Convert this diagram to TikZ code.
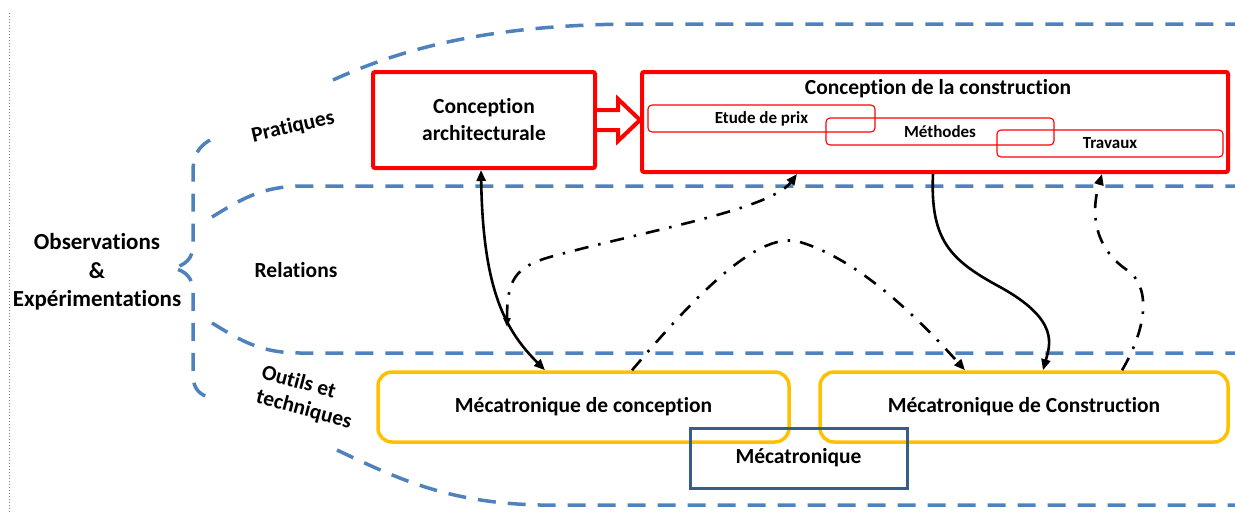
\documentclass[tikz,border=0pt]{standalone}
\usepackage{fontspec}
\setmainfont{Carlito}[Ligatures=NoCommon]
\usetikzlibrary{arrows.meta,calc}
\definecolor{bandblue}{HTML}{4F81BD}
\definecolor{boxred}{HTML}{FF0000}
\definecolor{boxyellow}{HTML}{FFC000}
\definecolor{boxnavy}{HTML}{385D8A}
\begin{document}
\begin{tikzpicture}[x=1pt,y=-1pt,
  font=\bfseries\fontsize{21.5}{27}\selectfont,
  band/.style={draw=bandblue,line width=3.5pt,dash pattern=on 18pt off 12pt},
  bigred/.style={draw=boxred,line width=4pt,rounded corners=2pt,inner sep=0pt},
  subred/.style={draw=boxred,line width=1.1pt,rounded corners=4pt,inner sep=0pt,
    minimum height=27pt,font=\bfseries\fontsize{17}{20}\selectfont},
  yelbox/.style={draw=boxyellow,line width=3.5pt,rounded corners=14pt,inner sep=0pt,
    minimum height=70pt},
  navybox/.style={draw=boxnavy,line width=3pt,inner sep=0pt,minimum width=217pt,minimum height=60pt},
  solidarrow/.style={draw=black,line width=2.6pt,-{Triangle[length=11pt,width=9pt]}},
  dotarrow/.style={draw=black,line width=2.6pt,dash pattern=on 14pt off 10pt on 2.5pt off 10pt,
    -{Triangle[length=11pt,width=9pt]}},
  sidelabel/.style={inner sep=0pt}
]
\useasboundingbox (0,0) rectangle (1235,512);
% left dotted margin line
\draw[gray,line width=0.8pt,dash pattern=on 1pt off 2pt] (9,13) -- (9,512);

% blue dashed bands
\draw[band] (333,80) .. controls (410,45) and (500,24) .. (640,24) -- (1235,24);
\draw[band] (212,217) .. controls (240,200) and (260,187) .. (300,186) -- (1235,186);
\draw[band] (212,323) .. controls (240,340) and (260,353) .. (300,353) -- (1235,353);
\draw[band] (337,450) .. controls (400,480) and (450,503) .. (540,505) -- (1235,505);
% brace
\draw[band] (210,140) .. controls (198,147) and (193,156) .. (193,172) -- (193,245)
  .. controls (193,258) and (186,265) .. (173,268)
  .. controls (186,271) and (193,278) .. (193,292) -- (193,375)
  .. controls (193,389) and (200,396) .. (213,398);

% labels on the left
\node[sidelabel,align=center,font=\bfseries\fontsize{23}{28.5}\selectfont] (obs) at (97,272)
  {Observations\\\&\\Expérimentations};
\node[sidelabel,rotate=13] (prat) at (293,127) {Pratiques};
\node[sidelabel] (rel) at (296,270) {Relations};
\node[sidelabel,rotate=-15] (outils) at (299,381) {Outils et};
\node[sidelabel,rotate=-15] (techn) at (304,410) {techniques};

% top boxes
\node[bigred,minimum width=222pt,minimum height=96pt,align=center] (archi) at (484,120)
  {Conception\\architecturale};
\node[bigred,minimum width=586pt,minimum height=100pt] (constr) at (935,122) {};
\node[sidelabel] (constrtitle) at (938,89) {Conception de la construction};
\node[subred,minimum width=227pt] (etude) at (761.5,118.5) {Etude de prix};
\node[subred,minimum width=228pt] (methodes) at (940,131.5) {Méthodes};
\node[subred,minimum width=226pt] (travaux) at (1110,143.5) {Travaux};

% block arrow between the two red boxes
\draw[draw=boxred,fill=white,line width=4pt,line join=miter]
  ([yshift=10pt]archi.east) -- ++(21,0) -- ++(0,-11) -- ++(22,21) -- ++(-22,21) -- ++(0,-11) -- ([yshift=-10pt]archi.east);

% bottom boxes
\node[yelbox,minimum width=411pt] (mecconc) at (583.5,407) {Mécatronique de conception};
\node[yelbox,minimum width=408pt] (mecconst) at (1024,407) {Mécatronique de Construction};
\node[navybox] (meca) at (798.5,458) {Mécatronique};

% connectors
\draw[solidarrow,{Triangle[length=11pt,width=9pt]}-{Triangle[length=11pt,width=9pt]}]
  ([xshift=-3pt]archi.south) .. controls (483,290) and (505,330) .. ([xshift=-38.5pt]mecconc.north);
\coordinate (dcend) at (507,327);
\draw[dotarrow,{Triangle[length=9pt,width=7pt]}-{Triangle[length=11pt,width=9pt]}]
  (dcend) .. controls (507,280) and (515,267) .. (550,257)
  .. controls (640,232) and (770,210) .. ([xshift=-138pt]constr.south);
\draw[dotarrow] ([xshift=48.5pt]mecconc.north) .. controls (700,290) and (760,230) .. (800,242)
  .. controls (860,260) and (920,320) .. ([xshift=-59pt]mecconst.north);
\draw[solidarrow] ([xshift=-2pt]constr.south) .. controls (930,240) and (950,260) .. (1000,287)
  .. controls (1060,320) and (1050,345) .. ([xshift=19pt]mecconst.north);
\draw[dotarrow] ([xshift=98pt]mecconst.north) .. controls (1140,340) and (1155,295) .. (1130,272)
  .. controls (1095,250) and (1090,215) .. ([xshift=167pt]constr.south);
\end{tikzpicture}
\end{document}
